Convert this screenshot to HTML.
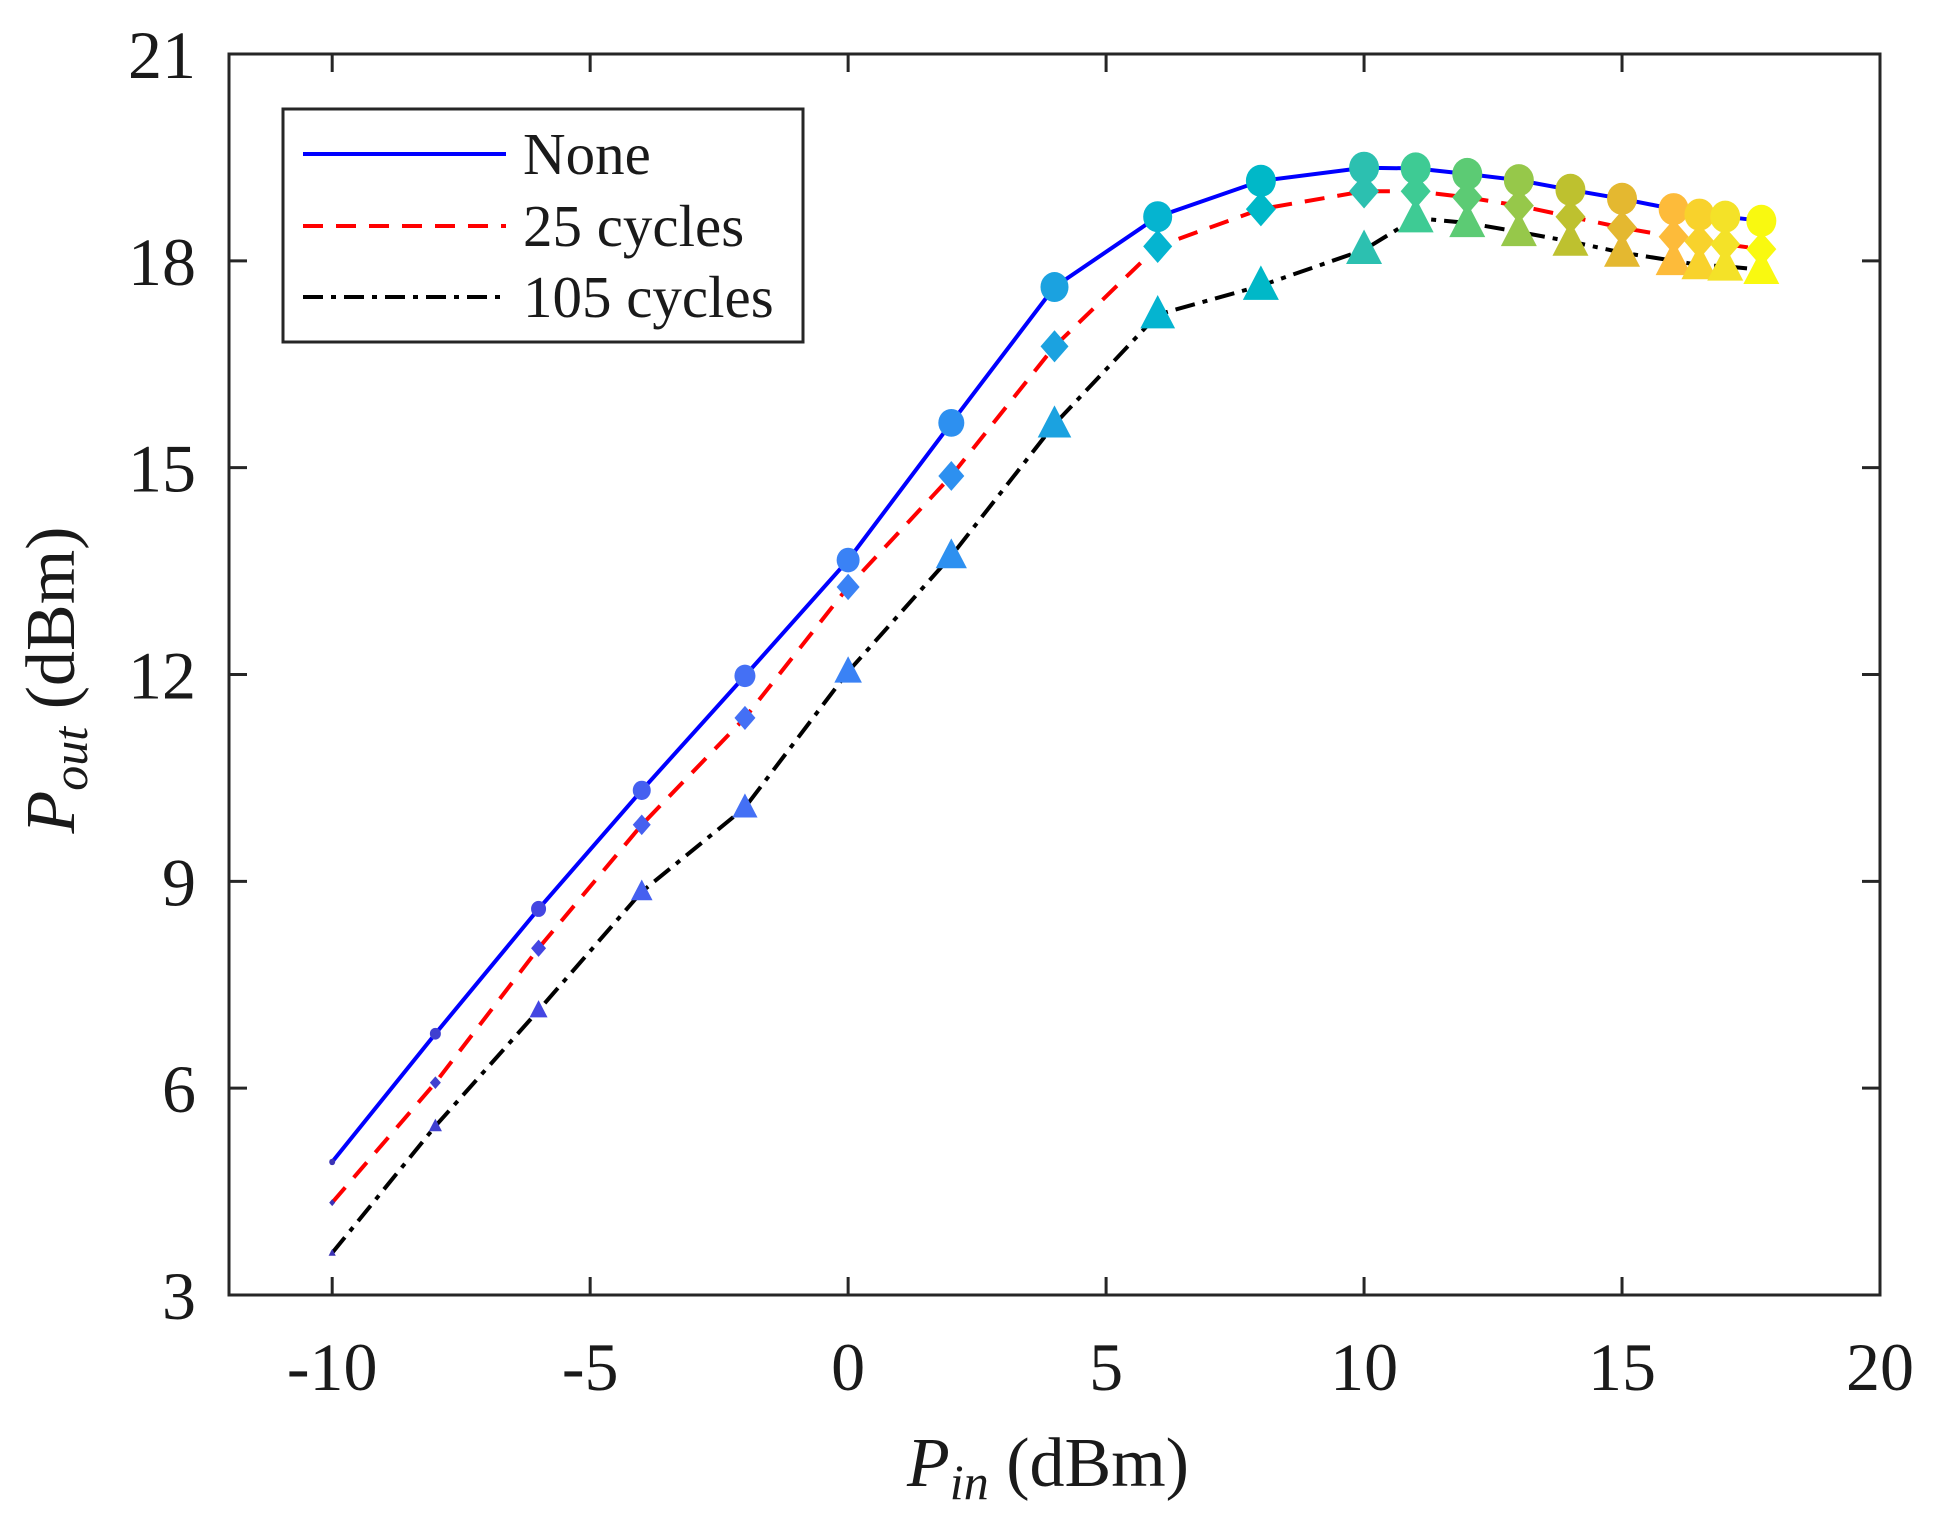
<!DOCTYPE html>
<html><head><meta charset="utf-8"><style>
html,body{margin:0;padding:0;background:#fff}
svg{display:block;font-family:"Liberation Serif",serif}
</style></head><body>
<svg id="chart" width="1934" height="1518" viewBox="0 0 1934 1518" xmlns="http://www.w3.org/2000/svg">
<rect width="1934" height="1518" fill="#fff"/>
<g id="series"></g>
<g id="axes"></g>
<g>
<rect x="283" y="109" width="520" height="233" fill="#fff" stroke="#262626" stroke-width="3"/>
<line x1="303" y1="154" x2="506" y2="154" stroke="#0000ff" stroke-width="4"/>
<line x1="303" y1="226" x2="506" y2="226" stroke="#ff0000" stroke-width="4" stroke-dasharray="20 13"/>
<line x1="303" y1="297" x2="506" y2="297" stroke="#000" stroke-width="4" stroke-dasharray="20 8 5 8"/>
<text x="523" y="174" font-size="59" fill="#1a1a1a">None</text>
<text x="523" y="246" font-size="59" fill="#1a1a1a">25 cycles</text>
<text x="523" y="317" font-size="59" fill="#1a1a1a">105 cycles</text>
</g>
<text x="1048" y="1486" font-size="70" text-anchor="middle" fill="#1a1a1a"><tspan font-style="italic">P</tspan><tspan font-style="italic" font-size="50" dy="13">in</tspan><tspan dy="-13"> (dBm)</tspan></text>
<text transform="translate(74,680) rotate(-90)" font-size="70" text-anchor="middle" fill="#1a1a1a"><tspan font-style="italic">P</tspan><tspan font-style="italic" font-size="50" dy="13">out</tspan><tspan dy="-13"> (dBm)</tspan></text>
</svg>
<script>
const pin = [-10,-8,-6,-4,-2,0,2,4,6,8,10,11,12,13,14,15,16,16.5,17,17.7];
const poutNone = [4.93,6.79,8.6,10.32,11.98,13.66,15.65,17.62,18.64,19.16,19.35,19.34,19.26,19.17,19.03,18.9,18.75,18.67,18.64,18.58];
const pout25 = [4.34,6.08,8.03,9.82,11.37,13.27,14.88,16.76,18.21,18.75,19.01,19.01,18.92,18.8,18.64,18.48,18.35,18.28,18.24,18.17];
const pout105 = [3.61,5.45,7.13,8.85,10.07,12.04,13.72,15.63,17.22,17.64,18.16,18.62,18.55,18.42,18.28,18.12,18.0,17.94,17.92,17.87];
const xTicks = [-10,-5,0,5,10,15,20];
const yTicks = [3,6,9,12,15,18,21];
const markerColors = ['#3b33b5','#4040d0','#4446e2','#4560f0','#4470f5','#3a82f5','#2d90f0','#1ba2e0','#05b4d0','#00b8c8','#2cc0b0','#3ecb94','#5ccb74','#96c84a','#bec12f','#e4b830','#fdbb3a','#f8d22c','#f4e228','#f9f910'];

const X0=229,X1=1880,Y0=54,Y1=1295;
const xmin=-12,xmax=20,ymin=3,ymax=21;
const sx=v=>X0+(v-xmin)/(xmax-xmin)*(X1-X0);
const sy=v=>Y1-(v-ymin)/(ymax-ymin)*(Y1-Y0);
const NS='http://www.w3.org/2000/svg';
const mk=(t,a,p)=>{const e=document.createElementNS(NS,t);for(const k in a)e.setAttribute(k,a[k]);p.appendChild(e);return e;};
const ser=document.getElementById('series'), ax=document.getElementById('axes');
const rad=i=>Math.min(15,[3,5.5,7.5,9,10.5,11.5,13,14,14.5][i]||15);

const defs=[
 {vals:poutNone,color:'#0000ff',dash:'',shape:'circle',name:'none'},
 {vals:pout25,color:'#ff0000',dash:'20 13',shape:'diamond',name:'25-cycles'},
 {vals:pout105,color:'#000000',dash:'20 8 5 8',shape:'triangle',name:'105-cycles'}];
defs.forEach(d=>{
  const pts=pin.map((x,i)=>sx(x).toFixed(1)+','+sy(d.vals[i]).toFixed(1)).join(' ');
  const pl=mk('polyline',{points:pts,fill:'none',stroke:d.color,'stroke-width':4,'stroke-dasharray':d.dash},ser);
  
  
});
defs.slice().reverse().forEach(d=>{
  pin.forEach((x,i)=>{
    const cx=sx(x), cy=sy(d.vals[i]), r=rad(i), c=markerColors[i];
    let e;
    if(d.shape==='circle') e=mk('ellipse',{cx,cy,rx:r,ry:r*1.07,fill:c},ser);
    else if(d.shape==='diamond') e=mk('polygon',{points:`${cx},${cy-r*1.15} ${cx+r},${cy} ${cx},${cy+r*1.15} ${cx-r},${cy}`,fill:c},ser);
    else e=mk('polygon',{points:`${cx},${cy-r*1.35} ${cx+r*1.2},${cy+r*0.95} ${cx-r*1.2},${cy+r*0.95}`,fill:c},ser);
    
    
  });
});
const fr=mk('rect',{x:X0,y:Y0,width:X1-X0,height:Y1-Y0,fill:'none',stroke:'#262626','stroke-width':3},ax);


xTicks.forEach(v=>{
  const x=sx(v);
  mk('line',{x1:x,y1:Y1,x2:x,y2:Y1-18,stroke:'#262626','stroke-width':3},ax);
  mk('line',{x1:x,y1:Y0,x2:x,y2:Y0+18,stroke:'#262626','stroke-width':3},ax);
  const t=mk('text',{x:x,y:1390,'font-size':68,'text-anchor':'middle',fill:'#1a1a1a'},ax);
  t.textContent=v;
  
  
});
yTicks.forEach(v=>{
  const y=sy(v);
  mk('line',{x1:X0,y1:y,x2:X0+18,y2:y,stroke:'#262626','stroke-width':3},ax);
  mk('line',{x1:X1,y1:y,x2:X1-18,y2:y,stroke:'#262626','stroke-width':3},ax);
  const t=mk('text',{x:196,y:y+24,'font-size':68,'text-anchor':'end',fill:'#1a1a1a'},ax);
  t.textContent=v;
  
  
});
</script>
</body></html>
